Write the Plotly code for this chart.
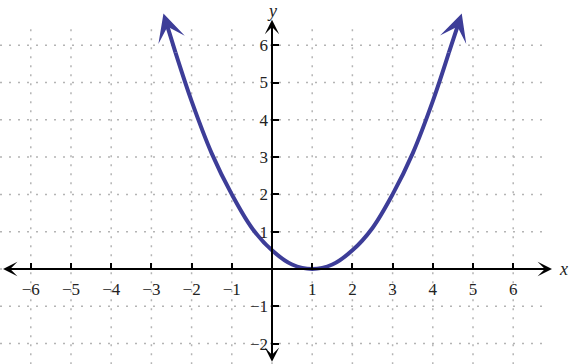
import plotly.graph_objects as go

# Data
curve_x = [-2.7, -2.4, -2.0, -1.5, -1.0, -0.5, 0.0, 0.5, 1.0, 1.5, 2.0, 2.5, 3.0, 3.5, 4.0, 4.4, 4.72]
curve_y = [6.85, 5.8, 4.5, 3.1, 2.0, 1.1, 0.5, 0.12, 0.0, 0.12, 0.5, 1.1, 2.0, 3.1, 4.5, 5.8, 6.85]

x_ticks = [-6, -5, -4, -3, -2, -1, 1, 2, 3, 4, 5, 6]
y_ticks = [-2, -1, 1, 2, 3, 4, 5, 6]
x_grid = [-6, -5, -4, -3, -2, -1, 0, 1, 2, 3, 4, 5, 6]
y_grid = [-2, -1, 0, 1, 2, 3, 4, 5, 6]

def lab(v):
    return ("\u2212" + str(-v)) if v < 0 else str(v)

W, H = 569, 364
XR = [-6.766, 7.388]
YR = [-2.547, 7.212]

CURVE = "#3d3d98"
GRID = "#b4b4b4"
SERIF = "Liberation Serif, Times New Roman, serif"

fig = go.Figure()

# curve body (without the arrow segments)
fig.add_trace(go.Scatter(
    x=curve_x[1:-1], y=curve_y[1:-1], mode="lines",
    line=dict(color=CURVE, width=4, shape="spline", smoothing=1.0),
    hoverinfo="skip", showlegend=False))

shapes = []
for gx in x_grid:
    shapes.append(dict(type="line", xref="x", yref="y", x0=gx, x1=gx, y0=6.43, y1=YR[0],
                       line=dict(color=GRID, width=1.5, dash="2px,7px"), layer="below"))
for gy in y_grid:
    shapes.append(dict(type="line", xref="x", yref="y", x0=XR[0], x1=6.74, y0=gy, y1=gy,
                       line=dict(color=GRID, width=1.5, dash="2px,7px"), layer="below"))

tiny = dict(text="", font=dict(size=1), borderpad=0, borderwidth=0)
annotations = []
# axes with arrows at both ends
annotations.append(dict(x=6.965, y=0, ax=-6.69, ay=0, xref="x", yref="y", axref="x", ayref="y",
                        showarrow=True, arrowhead=3, startarrowhead=3, arrowside="end+start",
                        arrowsize=1.2, startarrowsize=1.2, arrowwidth=2, arrowcolor="black",
                        standoff=0, startstandoff=0, **tiny))
annotations.append(dict(x=0, y=6.68, ax=0, ay=-2.49, xref="x", yref="y", axref="x", ayref="y",
                        showarrow=True, arrowhead=3, startarrowhead=3, arrowside="end+start",
                        arrowsize=1.2, startarrowsize=1.2, arrowwidth=2, arrowcolor="black",
                        standoff=0, startstandoff=0, **tiny))
# curve arrow ends
for tip, tail in [(0, 1), (-1, -2)]:
    annotations.append(dict(x=curve_x[tip], y=curve_y[tip], ax=curve_x[tail], ay=curve_y[tail],
                            xref="x", yref="y", axref="x", ayref="y", showarrow=True,
                            arrowhead=3, arrowsize=1.15, arrowwidth=4, arrowcolor=CURVE,
                            standoff=0, startstandoff=0, **tiny))
# axis titles
annotations.append(dict(x=7.25, y=0, xref="x", yref="y", text="<i>x</i>", showarrow=False,
                        font=dict(family=SERIF, size=18, color="#222")))
annotations.append(dict(x=0, y=YR[1], xref="x", yref="y", yanchor="top", text="<i>y</i>",
                        showarrow=False, borderpad=0,
                        font=dict(family=SERIF, size=18, color="#222")))

fig.update_layout(
    width=W, height=H, margin=dict(l=0, r=0, t=0, b=0),
    paper_bgcolor="white", plot_bgcolor="white",
    shapes=shapes, annotations=annotations, showlegend=False,
    xaxis=dict(range=XR, anchor="free", position=95 / 364, showgrid=False, zeroline=False,
               showline=False, tickmode="array", tickvals=x_ticks, ticktext=[lab(v) for v in x_ticks],
               ticks="inside", ticklen=6, tickwidth=2, tickcolor="black",
               tickfont=dict(family=SERIF, size=17, color="#222"),
               ticklabelstandoff=8, automargin=False, fixedrange=True),
    yaxis=dict(range=YR, anchor="free", position=272 / 569, showgrid=False, zeroline=False,
               showline=False, tickmode="array", tickvals=y_ticks, ticktext=[lab(v) for v in y_ticks],
               ticks="inside", ticklen=6, tickwidth=2, tickcolor="black",
               tickfont=dict(family=SERIF, size=17, color="#222"),
               ticklabelstandoff=4, automargin=False, fixedrange=True),
)

fig.write_html("out.html")
